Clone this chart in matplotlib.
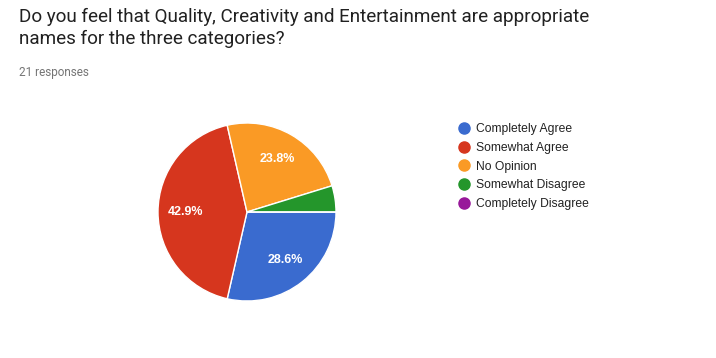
import matplotlib
matplotlib.use("Agg")
import matplotlib.pyplot as plt
from matplotlib.lines import Line2D

# survey answers (21 responses)
labels = ["Completely Agree", "Somewhat Agree", "No Opinion",
          "Somewhat Disagree", "Completely Disagree"]
counts = [6, 9, 5, 1, 0]
colors = ["#3a6bcf", "#d6361e", "#fa9a25", "#24962b", "#98189a"]

title = "Do you feel that Quality, Creativity and Entertainment are appropriate\nnames for the three categories?"
subtitle = "21 responses"

W, H = 716, 358
fig = plt.figure(figsize=(W / 100, H / 100), dpi=100)

fig.text(19 / W, 1 - 8 / H, title, family="Roboto", fontsize=13.55,
         color="#212121", va="top", ha="left", linespacing=1.25)
fig.text(19 / W, 1 - 66 / H, subtitle, family="Roboto", fontsize=8.5,
         color="#757575", va="top", ha="left")

# pie centred at (247, 212) px, radius 89 px
cx, cy, r = 247, 212, 89
ax = fig.add_axes([(cx - r) / W, (H - cy - r) / H, 2 * r / W, 2 * r / H])
wedges, texts, autotexts = ax.pie(
    counts, colors=colors, startangle=0, counterclock=False,
    autopct=lambda p: f"{p:.1f}%" if p > 10 else "",
    pctdistance=0.69, radius=1,
    wedgeprops=dict(edgecolor="white", linewidth=1),
    textprops=dict(color="white", fontsize=9, fontweight="bold",
                   family="Liberation Sans"))
ax.set_xlim(-1, 1)
ax.set_ylim(-1, 1)
ax.set_aspect("equal")
ax.axis("off")

handles = [Line2D([0], [0], marker="o", linestyle="none", markersize=8,
                  markerfacecolor=c, markeredgecolor=c) for c in colors]
fig.legend(handles, labels, loc="upper left",
           bbox_to_anchor=(457 / W, 1 - 123 / H), frameon=False,
           prop=dict(family="Liberation Sans", size=8.7),
           labelspacing=0.56, handletextpad=0.45, handlelength=1.1,
           borderpad=0, borderaxespad=0, labelcolor="#222222")

fig.savefig("out.png", dpi=100, facecolor="white")
